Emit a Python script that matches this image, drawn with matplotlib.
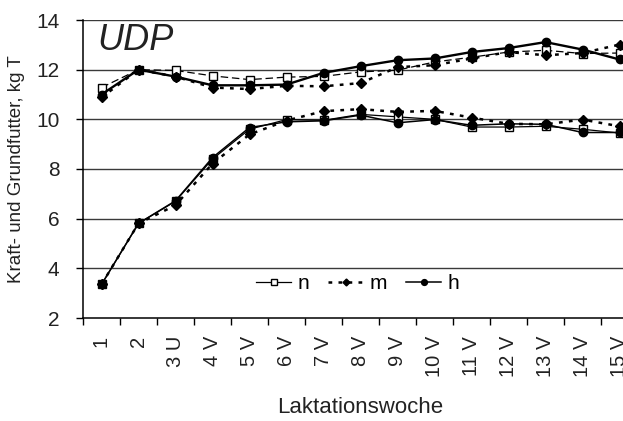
import matplotlib
matplotlib.use('Agg')
import matplotlib.pyplot as plt

plt.rcParams['font.family'] = ['Liberation Sans', 'DejaVu Sans']

#categories (Laktationswoche)
weeks = ['1', '2', '3 U', '4 V', '5 V', '6 V', '7 V', '8 V', '9 V', '10 V',
         '11 V', '12 V', '13 V', '14 V', '15 V']

#upper group
upper_n = [11.28, 12.0, 11.97, 11.75, 11.6, 11.7, 11.73, 11.91, 11.98, 12.31,
           12.5, 12.71, 12.78, 12.65, 12.67]
upper_m = [10.88, 12.0, 11.72, 11.28, 11.22, 11.35, 11.33, 11.46, 12.1, 12.18,
           12.45, 12.71, 12.58, 12.67, 13.01]
upper_h = [11.0, 12.0, 11.72, 11.37, 11.37, 11.4, 11.87, 12.14, 12.38, 12.45,
           12.71, 12.87, 13.11, 12.81, 12.41]

#lower group
lower_n = [3.35, 5.81, 6.7, 8.4, 9.6, 9.99, 9.96, 10.2, 10.1, 10.0,
           9.69, 9.69, 9.72, 9.6, 9.45]
lower_m = [3.35, 5.81, 6.54, 8.22, 9.39, 9.95, 10.33, 10.41, 10.3, 10.34,
           10.07, 9.82, 9.8, 9.99, 9.72]
lower_h = [3.35, 5.81, 6.72, 8.46, 9.67, 9.9, 9.94, 10.17, 9.86, 9.99,
           9.76, 9.82, 9.8, 9.47, 9.47]

x = list(range(len(weeks)))

fig = plt.figure(figsize=(6.23, 4.21), dpi=100)
#axes runs past the right edge like in the cropped original
ax = fig.add_axes([83/623, 1-318/421, 555/623, 298/421])

#grid
for yv in [4, 6, 8, 10, 12, 14]:
    ax.axhline(yv, color='#3a3a3a', lw=1.0, zorder=0)

#upper lines
ax.plot(x, upper_n, color='black', lw=0.9, ls=(0, (6, 3)), marker='s',
        markersize=5.5, markerfacecolor='white', markeredgecolor='black',
        markeredgewidth=1.0, zorder=3)
ax.plot(x, upper_m, color='black', lw=1.8, ls=(0, (1.5, 2.5)), marker='D',
        markersize=5, markerfacecolor='black', zorder=4)
ax.plot(x, upper_h, color='black', lw=1.7, ls='-', marker='o',
        markersize=6, markerfacecolor='black', zorder=5)

#lower lines
ax.plot(x, lower_n, color='black', lw=0.9, ls='-', marker='s',
        markersize=5.5, markerfacecolor='white', markeredgecolor='black',
        markeredgewidth=1.0, zorder=3, label='n')
ax.plot(x, lower_m, color='black', lw=1.8, ls=(0, (1.5, 2.5)), marker='D',
        markersize=5, markerfacecolor='black', zorder=4, label='m')
ax.plot(x, lower_h, color='black', lw=1.1, ls='-', marker='o',
        markersize=6, markerfacecolor='black', zorder=5, label='h')

ax.set_xlim(-0.5, 14.5)
ax.set_ylim(2, 14)

#ticks at category boundaries, labels at centres
ax.set_xticks([k - 0.5 for k in range(len(weeks) + 1)])
ax.set_xticklabels([])
ax.set_xticks(x, minor=True)
ax.set_xticklabels(weeks, minor=True, rotation=90, fontsize=14.5, color='#222222')
ax.tick_params(axis='x', which='major', direction='out', length=5, width=1)
ax.tick_params(axis='x', which='minor', length=0, pad=13)

ax.set_yticks([2, 4, 6, 8, 10, 12, 14])
ax.tick_params(axis='y', direction='out', length=5, width=1, labelsize=15,
               labelcolor='#222222', pad=12)

for side in ['top', 'right']:
    ax.spines[side].set_visible(False)
ax.spines['left'].set_linewidth(1.1)
ax.spines['bottom'].set_linewidth(1.1)

ax.set_ylabel('Kraft- und Grundfutter, kg T', fontsize=13.5, color='#222222')
ax.yaxis.set_label_coords(-0.105, 0.5)
ax.set_xlabel('Laktationswoche', fontsize=16, color='#222222')
ax.xaxis.set_label_coords(0.5, -0.265)

ax.text(0.025, 0.99, 'UDP', transform=ax.transAxes, fontsize=26,
        style='italic', va='top', ha='left', color='#222222')

leg = ax.legend(loc='center', bbox_to_anchor=(0.495, 0.115), ncol=3,
                frameon=False, fontsize=15, handlelength=1.7,
                columnspacing=0.9, handletextpad=0.3, markerscale=0.7)

fig.savefig('out.png', dpi=100)
